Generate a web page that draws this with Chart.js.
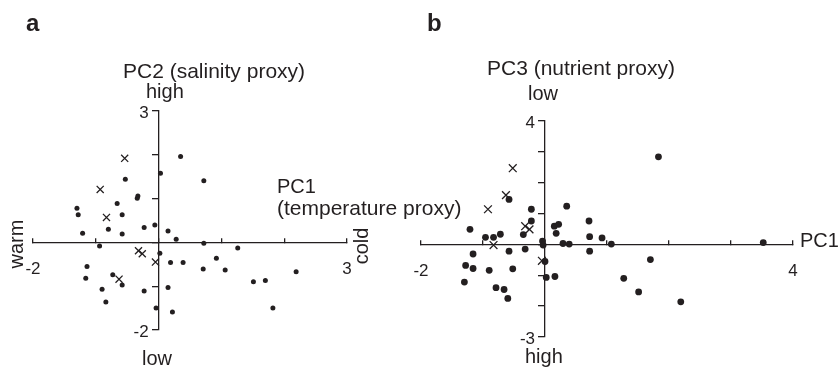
<!DOCTYPE html>
<html>
<head>
<meta charset="utf-8">
<script src="https://cdn.jsdelivr.net/npm/chart.js@4.4.1/dist/chart.umd.min.js"></script>
<style>
  html, body { margin: 0; padding: 0; background: #fff; }
  #Wrap { position: relative; width: 839px; height: 368px; }
  #Wrap canvas { position: absolute; left: 0; top: 0; }
</style>
</head>
<body>
<div id="Wrap">
  <canvas id="ChartA" width="839" height="368"></canvas>
  <canvas id="ChartB" width="839" height="368"></canvas>
</div>
<script>
// panel a : PC1 (temperature) vs PC2 (salinity)
const aRangePC1 = [-2, 3];
const aRangePC2 = [-2, 3];
const aDotPC1 = [3.49, 0.35, 0.03, -0.53, -0.33, -0.34, -0.66, -1.30, -1.28, -0.58, -0.06, -0.23, 0.15, -0.80, -1.21, -0.58, 0.28, -0.94, 0.72, 0.72, 1.26, 0.02, 0.19, 0.39, 0.92, 0.71, 1.06, 2.19, 1.51, 1.70, 1.82, -1.14, -1.16, -0.73, -0.58, -0.90, -0.23, 0.15, -0.84, -0.04, 0.22];
const aDotPC2 = [2.66, 1.96, 1.58, 1.44, 1.06, 1.01, 0.89, 0.78, 0.63, 0.63, 0.40, 0.34, 0.26, 0.30, 0.21, 0.19, 0.07, -0.08, 1.41, -0.02, -0.13, -0.25, -0.46, -0.46, -0.36, -0.61, -0.63, -0.67, -0.90, -0.87, -1.50, -0.55, -0.82, -0.74, -0.97, -1.07, -1.11, -1.03, -1.36, -1.50, -1.59];
const aCrossPC1 = [-0.54, -0.93, -0.83, -0.32, -0.26, -0.05, -0.63];
const aCrossPC2 = [1.92, 1.21, 0.57, -0.19, -0.26, -0.45, -0.84];

// panel b : PC1 (temperature) vs PC3 (nutrient)
const bRangePC1 = [-2, 4];
const bRangePC3 = [-3, 4];
const bDotPC1 = [1.83, -0.58, -0.22, 0.35, -0.22, 0.71, 0.15, 0.22, -1.21, 0.18, -0.96, -0.83, -0.72, -0.35, 0.72, 0.92, -0.04, 0.29, 0.39, 1.07, 3.52, -0.03, -0.32, -0.58, -1.16, -1.28, -1.16, -0.90, -0.52, -1.30, -0.79, -0.66, -0.60, 0.00, 0.02, 0.16, 0.72, 1.70, 1.27, 1.51, 2.19];
const bDotPC3 = [2.84, 1.46, 1.14, 1.24, 0.76, 0.76, 0.59, 0.65, 0.49, 0.36, 0.23, 0.23, 0.33, 0.32, 0.25, 0.21, 0.11, 0.03, 0.01, 0.01, 0.06, -0.02, -0.15, -0.22, -0.31, -0.68, -0.78, -0.84, -0.79, -1.22, -1.40, -1.46, -1.75, -0.55, -1.07, -1.04, -0.22, -0.49, -1.10, -1.54, -1.86];
const bCrossPC1 = [-0.52, -0.63, -0.92, -0.32, -0.25, -0.83, -0.05];
const bCrossPC3 = [2.47, 1.60, 1.14, 0.59, 0.49, -0.02, -0.53];

const INK = "#231f20";
const FONT = "'Liberation Sans', Arial, Helvetica, sans-serif";

function toPoints(xs, ys) {
  return xs.map((x, i) => ({ x, y: ys[i] }));
}

// free text around the axes (titles, pole names, panel letters)
// plus the end labels of the vertical axis, left of its tick marks
const panelText = {
  id: "panelText",
  afterDraw(chart, args, opts) {
    const ctx = chart.ctx;
    const xScale = chart.scales.x;
    const yScale = chart.scales.y;
    ctx.save();
    ctx.fillStyle = INK;

    ctx.font = `17px ${FONT}`;
    ctx.textAlign = "right";
    ctx.textBaseline = "middle";
    const axisX = xScale.getPixelForValue(0);
    opts.yEnds.forEach((v) => {
      ctx.fillText(String(v), axisX - 10, yScale.getPixelForValue(v) + 2);
    });

    (opts.items || []).forEach((it) => {
      ctx.font = `${it.bold ? "bold " : ""}${it.size}px ${FONT}`;
      if (it.rotate) {
        ctx.save();
        ctx.translate(it.x, it.y);
        ctx.rotate(-Math.PI / 2);
        ctx.textAlign = "center";
        ctx.textBaseline = "middle";
        ctx.fillText(it.text, 0, 0);
        ctx.restore();
      } else {
        ctx.textAlign = "left";
        ctx.textBaseline = "alphabetic";
        ctx.fillText(it.text, it.x, it.y);
      }
    });
    ctx.restore();
  },
};

function endLabels(range) {
  return (value) => (value === range[0] || value === range[1] ? String(value) : "");
}

function makePanel(canvasId, p) {
  return new Chart(document.getElementById(canvasId), {
    type: "scatter",
    data: {
      datasets: [
        {
          data: toPoints(p.dotX, p.dotY),
          pointStyle: "circle",
          pointRadius: p.dotRadius,
          backgroundColor: INK,
          borderWidth: 0,
          clip: false,
        },
        {
          data: toPoints(p.crossX, p.crossY),
          pointStyle: "crossRot",
          pointRadius: p.crossRadius,
          borderColor: INK,
          borderWidth: 1.3,
          clip: false,
        },
      ],
    },
    options: {
      responsive: false,
      animation: false,
      events: [],
      layout: { padding: p.padding },
      plugins: {
        legend: { display: false },
        tooltip: { enabled: false },
        panelText: { items: p.text, yEnds: p.yRange },
      },
      scales: {
        x: {
          type: "linear",
          min: p.xRange[0],
          max: p.xRange[1],
          position: { y: 0 },
          border: { display: true, color: INK, width: 1.3 },
          grid: { drawOnChartArea: false, tickLength: -5, color: INK, lineWidth: 1.3 },
          ticks: {
            stepSize: 1,
            autoSkip: false,
            maxRotation: 0,
            padding: 22,
            color: INK,
            font: { family: FONT, size: 17 },
            callback: endLabels(p.xRange),
          },
        },
        y: {
          type: "linear",
          min: p.yRange[0],
          max: p.yRange[1],
          position: { x: 0 },
          border: { display: true, color: INK, width: 1.3 },
          grid: { drawOnChartArea: false, tickLength: 6, color: INK, lineWidth: 1.3 },
          ticks: { stepSize: 1, display: false },
        },
      },
    },
    plugins: [panelText],
  });
}

makePanel("ChartA", {
  dotX: aDotPC1, dotY: aDotPC2,
  crossX: aCrossPC1, crossY: aCrossPC2,
  xRange: aRangePC1, yRange: aRangePC2,
  dotRadius: 2.5, crossRadius: 5,
  padding: { left: 33, top: 111, right: 492, bottom: 38 },
  text: [
    { text: "a", x: 26, y: 31, size: 24, bold: true },
    { text: "PC2 (salinity proxy)", x: 123, y: 78, size: 21 },
    { text: "high", x: 146, y: 98, size: 20 },
    { text: "low", x: 142, y: 365, size: 20 },
    { text: "PC1", x: 277, y: 193, size: 20 },
    { text: "(temperature proxy)", x: 277, y: 215, size: 21 },
    { text: "cold", x: 362, y: 246, size: 20, rotate: true },
    { text: "warm", x: 17, y: 244, size: 20, rotate: true },
  ],
});

makePanel("ChartB", {
  dotX: bDotPC1, dotY: bDotPC3,
  crossX: bCrossPC1, crossY: bCrossPC3,
  xRange: bRangePC1, yRange: bRangePC3,
  dotRadius: 3.4, crossRadius: 5.5,
  padding: { left: 421, top: 121, right: 46, bottom: 31 },
  text: [
    { text: "b", x: 427, y: 31, size: 24, bold: true },
    { text: "PC3 (nutrient proxy)", x: 487, y: 75, size: 21 },
    { text: "low", x: 528, y: 100, size: 20 },
    { text: "high", x: 525, y: 363, size: 20 },
    { text: "PC1", x: 800, y: 247, size: 20 },
  ],
});
</script>
</body>
</html>
